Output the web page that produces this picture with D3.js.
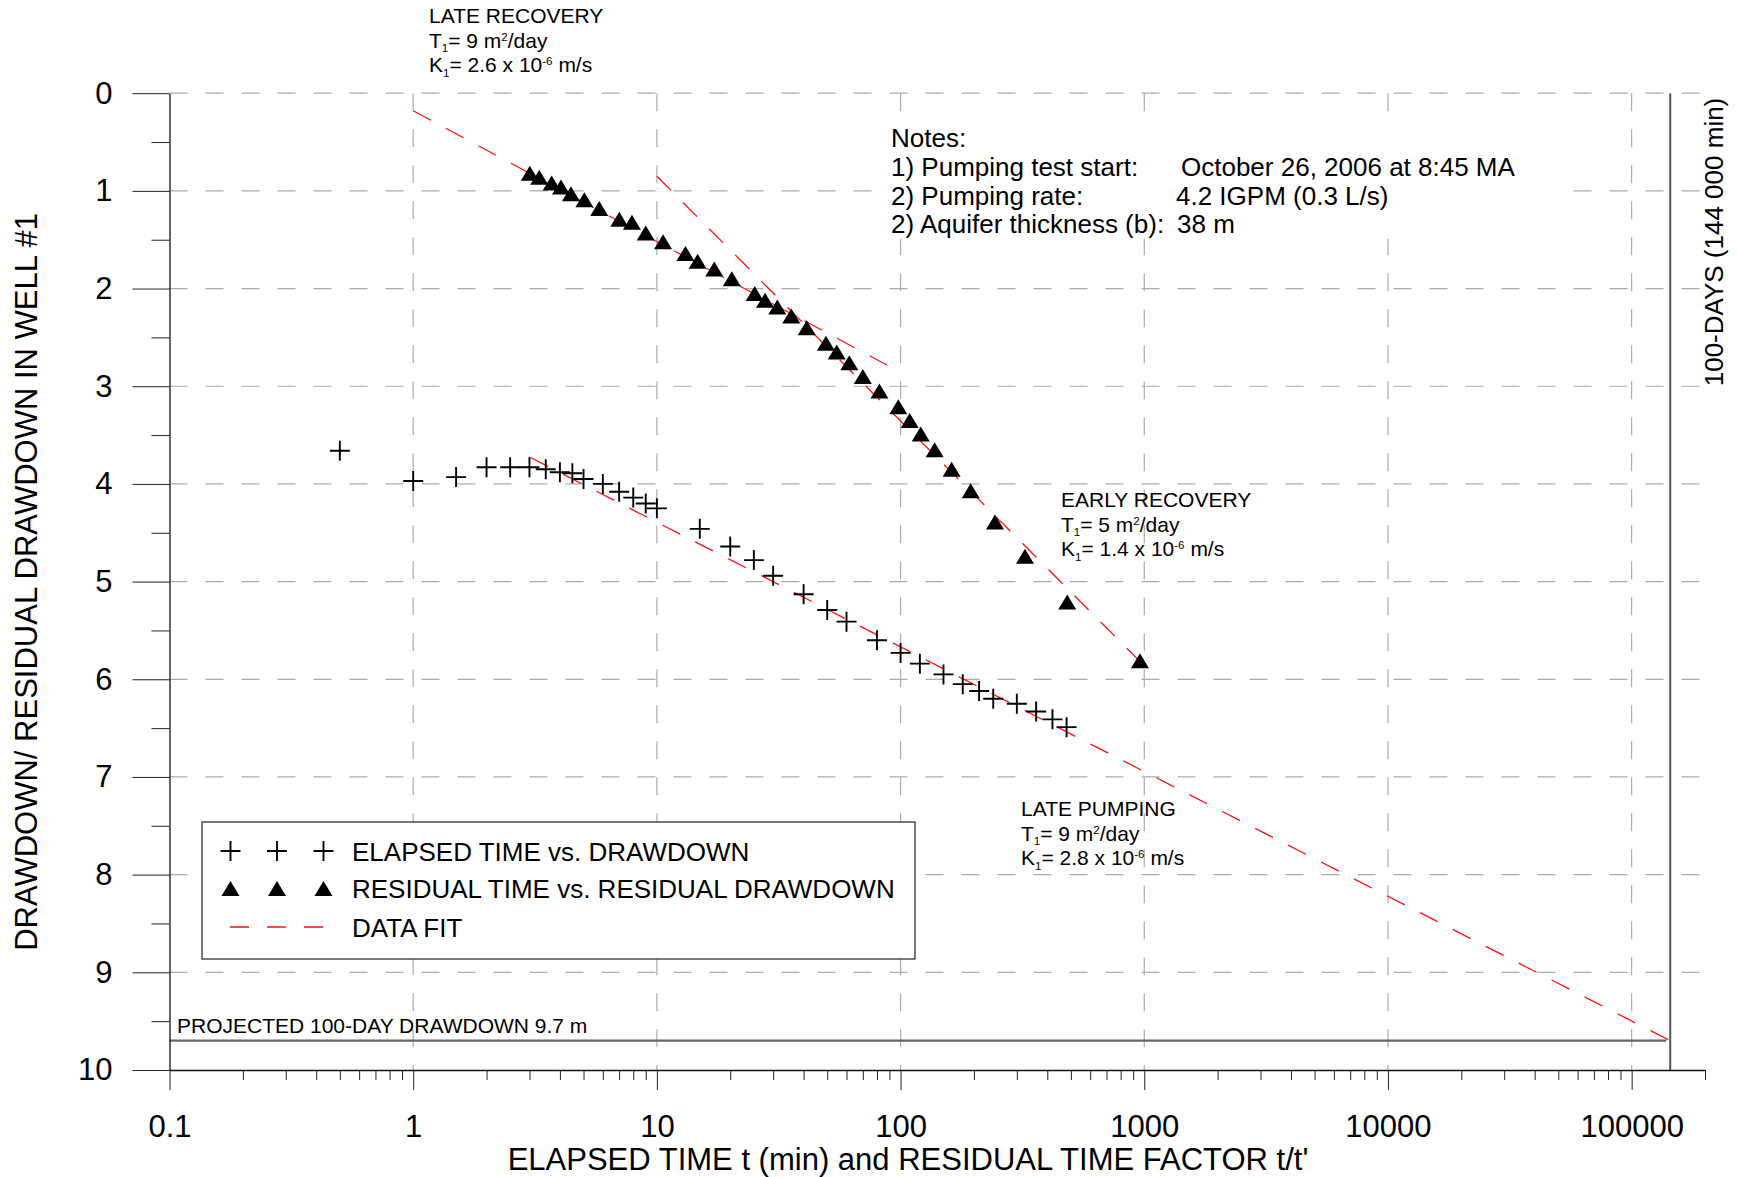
<!DOCTYPE html>
<html>
<head>
<meta charset="utf-8">
<script src="https://cdn.jsdelivr.net/npm/d3@7"></script>
<style>
  body { margin: 0; background: #fff; }
  svg { display: block; font-family: "Liberation Sans", Arial, sans-serif; }
</style>
</head>
<body>
<script>
// Pumping test data
const elapsedTime = [0.5, 1, 1.5, 2, 2.5, 3, 3.5, 4, 4.5, 5, 6, 7, 8, 9, 10, 15, 20, 25, 30, 40,
    50, 60, 80, 100, 120, 150, 180, 210, 240, 300, 360, 420, 480];
const drawdown = [3.66, 3.97, 3.93, 3.83, 3.83, 3.83, 3.85, 3.88, 3.89, 3.95, 4.00, 4.08, 4.14, 4.20, 4.25,
    4.46, 4.64, 4.78, 4.94, 5.13, 5.29, 5.41, 5.60, 5.73, 5.84, 5.95, 6.05, 6.12, 6.20, 6.25, 6.33, 6.41, 6.49];

const residualTimeFactor = [3.01, 3.29, 3.70, 4.04, 4.44, 5.04, 5.80, 7.01, 7.90, 9.0, 10.6, 13.1, 14.7,
    17.2, 20.3, 25.2, 27.8, 31.2, 35.6, 41.2, 49.4, 54.7, 61.6, 70.0, 81.9, 97.9, 109, 121, 138, 162,
    194, 244, 324, 483, 960];
const residualDrawdown = [0.82, 0.86, 0.92, 0.96, 1.03, 1.09, 1.18, 1.29, 1.32, 1.43, 1.52, 1.64, 1.72,
    1.80, 1.90, 2.05, 2.12, 2.19, 2.28, 2.40, 2.56, 2.65, 2.76, 2.90, 3.05, 3.21, 3.35, 3.49, 3.65, 3.85,
    4.07, 4.39, 4.74, 5.21, 5.81];

// Straight-line fits (start / end points as [t, s])
const lateRecoveryFit = [[1, 0.18], [92, 2.81]];
const earlyRecoveryFit = [[10, 0.85], [1008, 5.87]];
const latePumpingFit = [[3.03, 3.73], [144000, 9.7]];

const xTicks = [0.1, 1, 10, 100, 1000, 10000, 100000];
const xTickLabels = ['0.1', '1', '10', '100', '1000', '10000', '100000'];
const yTicks = [0, 1, 2, 3, 4, 5, 6, 7, 8, 9, 10];
const hundredDays = 144000;
const projectedDrawdown = 9.7;

const width = 1737, height = 1177;

const svg = d3.select('body')
    .append('svg')
    .attr('width', width)
    .attr('height', height);

const x = d3.scaleLog().domain([0.1, 200000]).range([169.5, 1705]);
const y = d3.scaleLinear().domain([0, 10]).range([93.2, 1070]);

// minor ticks: 2..9 of every decade
const minorX = [];
for (let d = 0.1; d < 200000; d *= 10) {
    for (let k = 2; k <= 9; k++) {
        if (d * k <= 200000) minorX.push(d * k);
    }
}
const minorY = d3.range(0.5, 10, 1);

// Grid
const grid = svg.append('g')
    .attr('stroke', '#ababab')
    .attr('stroke-width', 1.2)
    .attr('stroke-dasharray', '18,18');

grid.selectAll('.hgrid')
    .data(yTicks.filter(d => d < 10))
    .enter()
    .append('line')
    .attr('x1', x(0.1))
    .attr('x2', x(200000))
    .attr('y1', d => y(d))
    .attr('y2', d => y(d));

grid.selectAll('.vgrid')
    .data(xTicks.slice(1))
    .enter()
    .append('line')
    .attr('x1', d => x(d))
    .attr('x2', d => x(d))
    .attr('y1', y(0))
    .attr('y2', y(10));

// 100-day line and projected drawdown
svg.append('line')
    .attr('x1', x(hundredDays)).attr('x2', x(hundredDays))
    .attr('y1', y(0)).attr('y2', y(10))
    .attr('stroke', '#555').attr('stroke-width', 2);

svg.append('line')
    .attr('x1', x(0.1)).attr('x2', x(hundredDays) - 4)
    .attr('y1', y(projectedDrawdown)).attr('y2', y(projectedDrawdown))
    .attr('stroke', '#666').attr('stroke-width', 2.2);

// Axes
svg.append('g')
    .attr('transform', `translate(${x(0.1)},0)`)
    .call(d3.axisLeft(y).tickValues(yTicks).tickSize(37).tickSizeOuter(0).tickPadding(20).tickFormat(d3.format('d')));
svg.append('g')
    .attr('transform', `translate(${x(0.1)},0)`)
    .call(d3.axisLeft(y).tickValues(minorY).tickSize(18).tickFormat(''))
    .select('.domain').remove();

svg.append('g')
    .attr('transform', `translate(0,${y(10)})`)
    .call(d3.axisBottom(x).tickValues(xTicks).tickSize(20).tickSizeOuter(0).tickPadding(25)
        .tickFormat((d, i) => xTickLabels[i]));
svg.append('g')
    .attr('transform', `translate(0,${y(10)})`)
    .call(d3.axisBottom(x).tickValues(minorX).tickSize(10).tickFormat(''))
    .select('.domain').remove();

svg.selectAll('.tick line').attr('stroke', '#222');
svg.selectAll('.domain').attr('stroke', '#111').attr('stroke-width', 1.3);
svg.selectAll('.tick text')
    .style('font-family', '"Liberation Sans", Arial, sans-serif')
    .style('font-size', '31px')
    .attr('fill', '#000');

// Axis titles
svg.append('text')
    .attr('x', 908)
    .attr('y', 1170)
    .attr('text-anchor', 'middle')
    .style('font-size', '31px')
    .text("ELAPSED TIME t (min) and RESIDUAL TIME FACTOR t/t'");

svg.append('text')
    .attr('transform', 'translate(37,582) rotate(-90)')
    .attr('text-anchor', 'middle')
    .style('font-size', '31px')
    .text('DRAWDOWN/ RESIDUAL DRAWDOWN IN WELL #1');

svg.append('text')
    .attr('transform', 'translate(1723,242) rotate(-90)')
    .attr('text-anchor', 'middle')
    .style('font-size', '26px')
    .text('100-DAYS (144 000 min)');

// Notes block sits on a white box that hides the grid
svg.append('rect')
    .attr('x', 880)
    .attr('y', 121)
    .attr('width', 680)
    .attr('height', 118)
    .attr('fill', '#fff');

// Fit lines
const line = d3.line().x(d => x(d[0])).y(d => y(d[1]));
[lateRecoveryFit, earlyRecoveryFit, latePumpingFit].forEach(fit => {
    svg.append('path')
        .attr('d', line(fit))
        .attr('fill', 'none')
        .attr('stroke', '#ff1010')
        .attr('stroke-width', 1.3)
        .attr('stroke-dasharray', '20,17');
});

// Markers
const crossPath = 'M-10,0H10M0,-10V10';
const triPath = 'M0,-7.5L9,7.5L-9,7.5Z';

svg.append('g').selectAll('path')
    .data(elapsedTime.map((t, i) => [t, drawdown[i]]))
    .enter()
    .append('path')
    .attr('transform', d => `translate(${x(d[0])},${y(d[1])})`)
    .attr('d', crossPath)
    .attr('stroke', '#000')
    .attr('stroke-width', 1.9)
    .attr('fill', 'none');

svg.append('g').selectAll('path')
    .data(residualTimeFactor.map((t, i) => [t, residualDrawdown[i]]))
    .enter()
    .append('path')
    .attr('transform', d => `translate(${x(d[0])},${y(d[1])})`)
    .attr('d', triPath)
    .attr('fill', '#000');

// Text with sub/superscripts
function richText(px, py, size, parts) {
    const t = svg.append('text')
        .attr('x', px)
        .attr('y', py)
        .style('font-size', size + 'px');
    let shift = 0;
    parts.forEach(p => {
        const s = typeof p === 'string' ? { t: p } : p;
        const target = s.sub ? size * 0.22 : s.sup ? -size * 0.32 : 0;
        t.append('tspan')
            .attr('dy', target - shift)
            .style('font-size', (s.sub || s.sup) ? (size * 0.55) + 'px' : null)
            .text(s.t);
        shift = target;
    });
    return t;
}

function annotation(px, py, title, tVal, kVal) {
    richText(px, py, 21, [title]);
    richText(px, py + 24.5, 21, ['T', { t: '1', sub: true }, '= ' + tVal + ' m', { t: '2', sup: true }, '/day']);
    richText(px, py + 49, 21, ['K', { t: '1', sub: true }, '= ' + kVal + ' x 10', { t: '-6', sup: true }, ' m/s']);
}

annotation(429, 23, 'LATE RECOVERY', '9', '2.6');
annotation(1061, 507, 'EARLY RECOVERY', '5', '1.4');
annotation(1021, 816, 'LATE PUMPING', '9', '2.8');

svg.append('text')
    .attr('x', 177)
    .attr('y', 1033)
    .style('font-size', '21px')
    .text('PROJECTED 100-DAY DRAWDOWN 9.7 m');

// Notes
const notes = [
    ['Notes:', ''],
    ['1) Pumping test start:', 'October 26, 2006 at 8:45 MA'],
    ['2) Pumping rate:', '4.2 IGPM (0.3 L/s)'],
    ['2) Aquifer thickness (b):', '38 m']
];
const notesX2 = [0, 1181, 1176, 1177];
notes.forEach((n, i) => {
    svg.append('text')
        .attr('x', 891)
        .attr('y', 147 + i * 28.8)
        .style('font-size', '26px')
        .text(n[0]);
    if (n[1]) {
        svg.append('text')
            .attr('x', notesX2[i])
            .attr('y', 147 + i * 28.8)
            .style('font-size', '26px')
            .text(n[1]);
    }
});

// Legend
const legend = svg.append('g').attr('transform', 'translate(202,822)');
legend.append('rect')
    .attr('width', 713)
    .attr('height', 137)
    .attr('fill', '#fff')
    .attr('stroke', '#222')
    .attr('stroke-width', 1.2);

const symX = [28.5, 75, 121.5];
const rowY = [29, 66.5, 105];

symX.forEach(sx => {
    legend.append('path')
        .attr('transform', `translate(${sx},${rowY[0]})`)
        .attr('d', crossPath)
        .attr('stroke', '#000')
        .attr('stroke-width', 1.9);
    legend.append('path')
        .attr('transform', `translate(${sx},${rowY[1]})`)
        .attr('d', triPath)
        .attr('fill', '#000');
});
legend.append('line')
    .attr('x1', 28).attr('x2', 121)
    .attr('y1', rowY[2]).attr('y2', rowY[2])
    .attr('stroke', '#ff1010')
    .attr('stroke-width', 1.3)
    .attr('stroke-dasharray', '19,18');

['ELAPSED TIME vs. DRAWDOWN', 'RESIDUAL TIME vs. RESIDUAL DRAWDOWN', 'DATA FIT'].forEach((label, i) => {
    legend.append('text')
        .attr('x', 150)
        .attr('y', rowY[i] + 9.5)
        .style('font-size', '26px')
        .text(label);
});
</script>
</body>
</html>
